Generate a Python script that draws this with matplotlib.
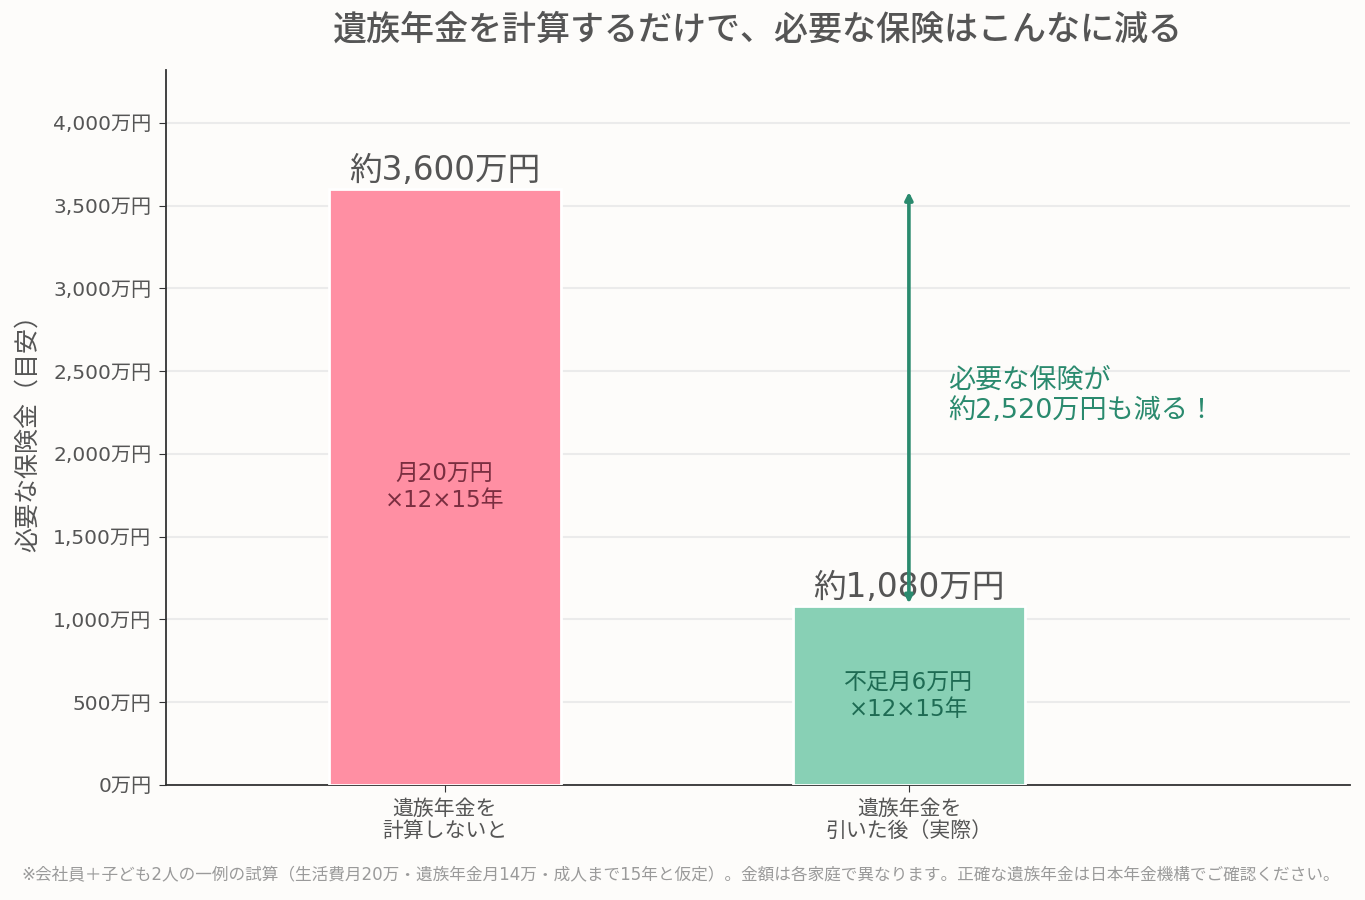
import matplotlib
matplotlib.use("Agg")
import matplotlib.pyplot as plt
from matplotlib.ticker import FuncFormatter

FONTS = ['DejaVu Sans', 'Noto Sans CJK JP']
plt.rcParams['font.family'] = FONTS

categories = ["遺族年金を\n計算しないと", "遺族年金を\n引いた後（実際）"]
values = [3600, 1080]
value_labels = ["約3,600万円", "約1,080万円"]
inner_labels = ["月20万円\n×12×15年", "不足月6万円\n×12×15年"]
bar_colors = ["#FF8FA3", "#88D0B5"]
inner_colors = ["#7A2E40", "#1E6B53"]
yticks = [0, 500, 1000, 1500, 2000, 2500, 3000, 3500, 4000]
title = "遺族年金を計算するだけで、必要な保険はこんなに減る"
ylabel = "必要な保険金（目安）"
annot_text = "必要な保険が\n約2,520万円も減る！"
footnote = "※会社員＋子ども2人の一例の試算（生活費月20万・遺族年金月14万・成人まで15年と仮定）。金額は各家庭で異なります。正確な遺族年金は日本年金機構でご確認ください。"

bg = "#FDFCFA"
green = "#2A8A6E"
textc = "#555555"

fig = plt.figure(figsize=(13.65, 9), dpi=100, facecolor=bg)
ax = fig.add_axes([166/1365, 1-785/900, (1350-166)/1365, (785-70)/900])
ax.set_facecolor(bg)

x = list(range(len(categories)))
bars = ax.bar(x, values, width=0.5, color=bar_colors, edgecolor="white", linewidth=2, zorder=3)

for xi, v, lab, inl, ic in zip(x, values, value_labels, inner_labels, inner_colors):
    ax.text(xi, v + 12, lab, ha="center", va="bottom", fontsize=23.5, color=textc, zorder=5)
    ax.text(xi, v / 2, inl, ha="center", va="center", fontsize=16.5, color=ic, zorder=5, linespacing=1.25)

ax.annotate("", xy=(1, values[0]), xytext=(1, values[1]),
            arrowprops=dict(arrowstyle="<|-|>", color=green, lw=2.6, shrinkA=2, shrinkB=2,
                            mutation_scale=11), zorder=6)
ax.text(1.085, 2350, annot_text, ha="left", va="center", fontsize=19.5, color=green, linespacing=1.2)

ax.set_xlim(-0.6, 1.95)
ax.set_ylim(0, 4320)
ax.set_yticks(yticks)
ax.yaxis.set_major_formatter(FuncFormatter(lambda v, p: f"{int(v):,}万円"))
ax.set_xticks(x)
ax.set_xticklabels(categories, fontsize=15, color=textc, linespacing=1.15)
ax.tick_params(axis="y", labelsize=14.5, labelcolor=textc, length=5, color="#333333", pad=5.5)
ax.tick_params(axis="x", length=5, color="#333333", pad=5)
ax.grid(axis="y", color="#EBEBEB", linewidth=1.5, zorder=0)
ax.set_axisbelow(True)
for s in ["top", "right"]:
    ax.spines[s].set_visible(False)
for s in ["left", "bottom"]:
    ax.spines[s].set_color("#333333")
    ax.spines[s].set_linewidth(1.3)

ax.set_ylabel(ylabel, fontsize=18, color=textc)
ax.yaxis.set_label_coords((40-166)/1184, 0.5)
fig.text(758/1365, 1-30/900, title, ha="center", va="center", fontsize=24.5, color=textc,
         fontweight="medium")
fig.text(681/1365, 1-875/900, footnote, ha="center", va="center", fontsize=12, color="#9A9A9A")

fig.savefig("out.png", dpi=100, facecolor=bg)
